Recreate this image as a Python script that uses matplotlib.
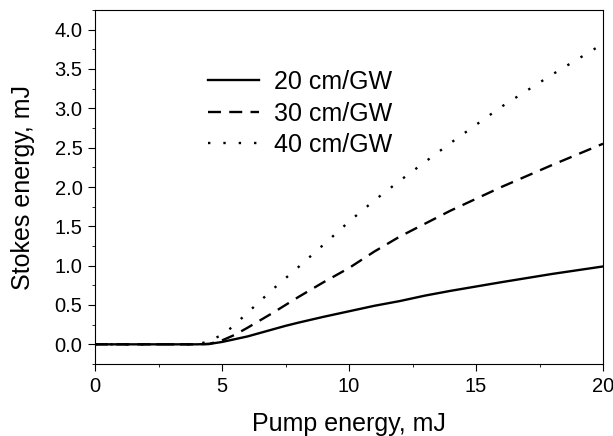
import numpy as np
import matplotlib.pyplot as plt
from matplotlib.ticker import MultipleLocator

plt.rcParams['font.family'] = ['Liberation Sans', 'DejaVu Sans']

# pump energy (mJ) and Stokes energy (mJ) for the three gain coefficients
x20 = [0, 1, 2, 3, 4, 4.5, 5, 5.5, 6, 6.5, 7, 7.5, 8, 9, 10, 11, 12, 13, 14, 16, 18, 20]
y20 = [0, 0, 0, 0, 0, 0.005, 0.03, 0.065, 0.10, 0.145, 0.19, 0.235, 0.275, 0.35, 0.42, 0.49, 0.55, 0.62, 0.68, 0.79, 0.895, 0.99]

x30 = [0, 1, 2, 3, 4, 4.5, 5, 5.5, 6, 7, 8, 9, 10, 11, 12, 14, 16, 18, 20]
y30 = [0, 0, 0, 0, 0, 0.005, 0.05, 0.12, 0.21, 0.40, 0.60, 0.79, 0.97, 1.18, 1.37, 1.70, 2.0, 2.28, 2.55]

x40 = [0, 1, 2, 3, 4, 4.4, 5, 5.4, 6, 7, 8, 9.25, 10, 11, 12, 14, 16, 18, 20]
y40 = [0, 0, 0, 0, 0, 0.03, 0.12, 0.22, 0.40, 0.70, 0.98, 1.34, 1.56, 1.83, 2.08, 2.56, 3.02, 3.43, 3.82]

labels = ['20 cm/GW', '30 cm/GW', '40 cm/GW']

fig = plt.figure(figsize=(6.13, 4.36), dpi=100)
ax = fig.add_axes([95/613, 1 - 364/436, 508/613, 354/436])

ax.plot(x20, y20, '-', color='black', lw=1.7, label=labels[0])
ax.plot(x30, y30, color='black', lw=1.7, dashes=(5.5, 3.5), label=labels[1])
ax.plot(x40, y40, color='black', lw=1.7, dashes=(1, 5.5), label=labels[2])

ax.set_xlim(0, 20)
ax.set_ylim(-0.25, 4.25)
ax.xaxis.set_major_locator(MultipleLocator(5))
ax.xaxis.set_minor_locator(MultipleLocator(2.5))
ax.yaxis.set_major_locator(MultipleLocator(0.5))
ax.yaxis.set_minor_locator(MultipleLocator(0.25))
ax.yaxis.set_major_formatter(plt.FormatStrFormatter('%.1f'))
ax.tick_params(which='major', direction='out', length=5, labelsize=14.5, pad=4)
ax.tick_params(which='minor', direction='out', length=2.5)
ax.set_xlabel('Pump energy, mJ', fontsize=18, labelpad=12)
ax.set_ylabel('Stokes energy, mJ', fontsize=18, labelpad=14)

ax.legend(loc='upper left', bbox_to_anchor=(0.222, 0.83), frameon=False,
          fontsize=18, handlelength=2.05, handletextpad=0.6, labelspacing=0.3,
          borderaxespad=0, borderpad=0)

fig.savefig('out.png')
